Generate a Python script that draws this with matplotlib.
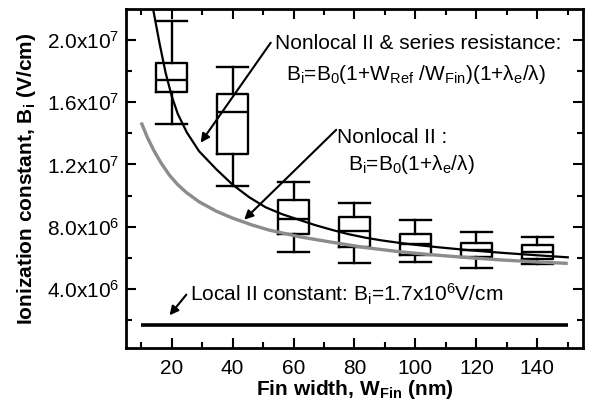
import matplotlib
matplotlib.use("Agg")
import matplotlib.pyplot as plt
from matplotlib.ticker import FixedLocator, FixedFormatter

plt.rcParams['font.family'] = ['Liberation Sans', 'DejaVu Sans']
plt.rcParams['mathtext.fontset'] = 'custom'
plt.rcParams['mathtext.rm'] = 'Liberation Sans'
plt.rcParams['mathtext.it'] = 'Liberation Sans:italic'
plt.rcParams['mathtext.bf'] = 'Liberation Sans:bold'

# ---- data (values in V/cm) ----
box_w = [20, 40, 60, 80, 100, 120, 140]
box_whislo = [14.6e6, 10.6e6, 6.4e6, 5.67e6, 5.71e6, 5.35e6, 5.60e6]
box_q1 = [16.65e6, 12.7e6, 7.5e6, 6.7e6, 6.2e6, 6.03e6, 5.94e6]
box_med = [17.4e6, 15.35e6, 8.5e6, 7.7e6, 6.9e6, 6.5e6, 6.4e6]
box_q3 = [18.55e6, 16.55e6, 9.7e6, 8.6e6, 7.5e6, 6.95e6, 6.8e6]
box_whishi = [21.25e6, 18.25e6, 10.9e6, 9.5e6, 8.4e6, 7.65e6, 7.35e6]

black_w = [13.8, 16, 18, 20, 22, 25, 29, 34.6, 40, 45.4, 50.8, 56.3, 61.7,
           67.1, 72.5, 78, 83.4, 88.8, 94.3, 99.7, 107.3, 118, 129, 140, 150]
black_b = [22.1e6, 19.8e6, 17.9e6, 16.4e6, 15.25e6, 14.05e6, 12.85e6, 11.7e6,
           10.7e6, 9.9e6, 9.25e6, 8.8e6, 8.45e6, 8.1e6, 7.8e6, 7.52e6,
           7.3e6, 7.12e6, 6.97e6, 6.84e6, 6.68e6, 6.48e6, 6.31e6, 6.16e6, 6.03e6]

gray_w = [10, 12, 14, 16.5, 19.3, 22, 24.8, 29, 34.6, 40, 46.5, 52, 62, 72.5,
          83.4, 94.3, 105, 118, 129, 140, 150]
gray_b = [14.7e6, 13.75e6, 12.95e6, 12.1e6, 11.3e6, 10.7e6, 10.2e6, 9.6e6,
          9.0e6, 8.55e6, 8.1e6, 7.78e6, 7.35e6, 7.0e6, 6.66e6, 6.4e6, 6.2e6,
          6.0e6, 5.85e6, 5.73e6, 5.64e6]

local_w = [10, 150]
local_b = [1.7e6, 1.7e6]

xticks = [20, 40, 60, 80, 100, 120, 140]
xtick_labels = ['20', '40', '60', '80', '100', '120', '140']
yticks = [4e6, 8e6, 1.2e7, 1.6e7, 2.0e7]
ytick_labels = ['4.0x10$^{6}$', '8.0x10$^{6}$', '1.2x10$^{7}$', '1.6x10$^{7}$', '2.0x10$^{7}$']

# ---- figure ----
fig = plt.figure(figsize=(5.94, 4.07), dpi=100)
ax = fig.add_axes([0.2121, 0.145, 0.9815 - 0.2121, 0.978 - 0.145])

stats = []
for i in range(len(box_w)):
    stats.append(dict(whislo=box_whislo[i], q1=box_q1[i], med=box_med[i],
                      q3=box_q3[i], whishi=box_whishi[i], fliers=[]))
lw = 1.7
ax.bxp(stats, positions=box_w, widths=10, capwidths=10, showfliers=False,
       manage_ticks=False,
       boxprops=dict(color='black', linewidth=lw),
       medianprops=dict(color='black', linewidth=lw),
       whiskerprops=dict(color='black', linewidth=lw),
       capprops=dict(color='black', linewidth=lw))

ax.plot(gray_w, gray_b, color='#8c8c8c', lw=2.4, solid_capstyle='butt',
        solid_joinstyle='round')
ax.plot(black_w, black_b, color='black', lw=1.6, solid_joinstyle='round')
ax.plot(local_w, local_b, color='black', lw=2.6, solid_capstyle='butt')

ax.set_xlim(5, 155)
ax.set_ylim(0.2e6, 2.2e7)

ax.xaxis.set_major_locator(FixedLocator(xticks))
ax.xaxis.set_major_formatter(FixedFormatter(xtick_labels))
ax.xaxis.set_minor_locator(FixedLocator([10, 30, 50, 70, 90, 110, 130, 150]))
ax.yaxis.set_major_locator(FixedLocator(yticks))
ax.yaxis.set_major_formatter(FixedFormatter(ytick_labels))
ax.yaxis.set_minor_locator(FixedLocator([2e6, 6e6, 1.0e7, 1.4e7, 1.8e7]))

ax.tick_params(which='both', direction='in', top=True, right=True, width=1.5,
               labelsize=15)
ax.tick_params(which='major', length=7)
ax.tick_params(which='minor', length=4)
ax.tick_params(axis='x', pad=8)
ax.tick_params(axis='y', pad=5)
for s in ax.spines.values():
    s.set_linewidth(2)

ax.set_xlabel('Fin width, W$_\\mathbf{Fin}$ (nm)', fontsize=15, fontweight='bold', labelpad=0)
ax.set_ylabel('Ionization constant, B$_\\mathbf{i}$ (V/cm)', fontsize=15, fontweight='bold', labelpad=6)

fs = 15
ax.text(53.8, 1.941e7, 'Nonlocal II & series resistance:', fontsize=fs, va='baseline')
ax.text(57.5, 1.744e7, 'B$_\\mathrm{i}$=B$_\\mathrm{0}$(1+W$_\\mathrm{Ref}$ /W$_\\mathrm{Fin}$)(1+λ$_\\mathrm{e}$/λ)',
        fontsize=fs, va='baseline')
ax.text(74.2, 1.337e7, 'Nonlocal II :', fontsize=fs, va='baseline')
ax.text(77.8, 1.166e7, 'B$_\\mathrm{i}$=B$_\\mathrm{0}$(1+λ$_\\mathrm{e}$/λ)', fontsize=fs, va='baseline')
ax.text(25.9, 3.20e6, 'Local II constant: B$_\\mathrm{i}$=1.7x10$^\\mathrm{6}$V/cm', fontsize=fs, va='baseline')

ap = dict(arrowstyle='-|>', color='black', lw=1.5, mutation_scale=13, shrinkA=0, shrinkB=0)
ax.annotate('', xy=(29.5, 1.34e7), xytext=(52.5, 1.983e7), arrowprops=ap)
ax.annotate('', xy=(43.8, 8.45e6), xytext=(74.0, 1.423e7), arrowprops=ap)
ax.annotate('', xy=(19.3, 2.30e6), xytext=(24.8, 3.63e6), arrowprops=ap)

fig.savefig('out.png', dpi=100)
